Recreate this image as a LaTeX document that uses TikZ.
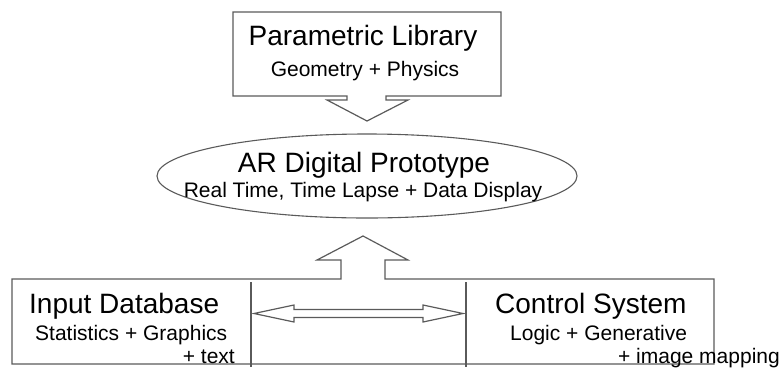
\documentclass[tikz,border=0pt]{standalone}
\usepackage{fontspec}
\setmainfont{Liberation Sans}
\usetikzlibrary{shapes.geometric}
\definecolor{linegray}{RGB}{90,90,90}
\begin{document}
\begin{tikzpicture}[x=1pt,y=-1pt,
  outline/.style={draw=linegray,line width=1.2pt,line join=miter},
  bigtext/.style={inner sep=0pt,font=\fontsize{28}{30}\selectfont},
  smalltext/.style={inner sep=0pt,font=\fontsize{21}{24}\selectfont}]
\useasboundingbox (0,0) rectangle (783,367);
% top box merged with down arrow
\draw[outline] (347,96) -- (233,96) -- (233,12) -- (501,12) -- (501,96) -- (386,96)
  -- (386,100) -- (408,100) -- (367,121) -- (327,100) -- (347,100) -- cycle;
\node[bigtext,anchor=base] (plib) at (363,45) {Parametric Library};
\node[smalltext,anchor=base] (plibsub) at (365,76) {Geometry + Physics};
% ellipse
\node[ellipse,draw=linegray,line width=1.1pt,minimum width=420pt,minimum height=84pt,inner sep=0pt] (ar) at (367,176) {};
\node[bigtext,anchor=base] (artitle) at (364,172) {AR Digital Prototype};
\node[smalltext,anchor=base] (arsub) at (363,197) {Real Time, Time Lapse + Data Display};
% bottom box merged with up arrow
\draw[outline] (341,279) -- (12,279) -- (12,364) -- (714,364) -- (714,279) -- (385,279)
  -- (385,260) -- (408,260) -- (363,236) -- (317,260) -- (341,260) -- cycle;
\coordinate (dl1) at (251,282);
\coordinate (dl2) at (251,367);
\coordinate (dr1) at (466,282);
\coordinate (dr2) at (466,367);
\draw[outline] (dl1) -- (dl2);
\draw[outline] (dr1) -- (dr2);
% double arrow
\coordinate (tipL) at (254,313.5);
\coordinate (tipR) at (463,313.5);
\draw[outline] (tipL) -- (294,305) -- (294,309.5) -- (423,309.5) -- (423,305) -- (tipR)
  -- (423,322) -- (423,317.5) -- (294,317.5) -- (294,322) -- cycle;
% texts
\node[bigtext,anchor=base west] (indb) at (29,313) {Input Database};
\node[smalltext,anchor=base west] (indbsub) at (35,340) {Statistics + Graphics};
\node[smalltext,anchor=base east] (indbsub2) at (235,363) {+ text};
\node[bigtext,anchor=base west] (ctrl) at (495,313) {Control System};
\node[smalltext,anchor=base west] (ctrlsub) at (510,340) {Logic + Generative};
\node[smalltext,anchor=base east] (ctrlsub2) at (780,363) {+ image mapping};
\end{tikzpicture}
\end{document}
